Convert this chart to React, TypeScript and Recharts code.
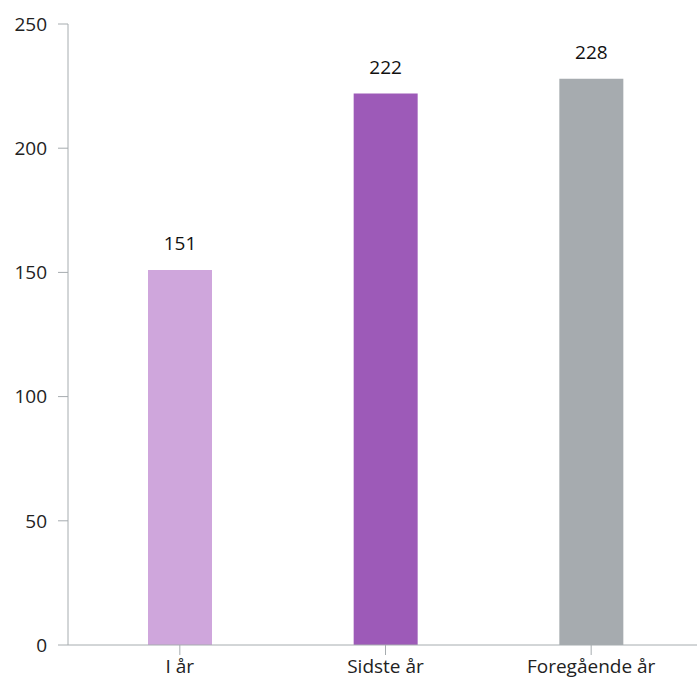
import { Bar, BarChart, Cell, LabelList, XAxis, YAxis } from "recharts";

const categories = ["I år", "Sidste år", "Foregående år"];
const values = [151, 222, 228];
const colors = ["#cfa6dc", "#9d5ab8", "#a6abaf"];
const yTicks = [0, 50, 100, 150, 200, 250];

const data = categories.map((name, i) => ({ name, value: values[i] }));

const axisColor = "#a6acaf";
const font = "'Open Sans', 'Noto Sans', sans-serif";

export default function App() {
  return (
    <div style={{ position: "absolute", left: 0, top: 0, fontFamily: font }}>
      <BarChart
        width={697}
        height={688}
        data={data}
        margin={{ top: 24, right: 0, bottom: 0, left: 0 }}
      >
        <XAxis
          dataKey="name"
          height={43}
          stroke={axisColor}
          tickSize={10}
          tickMargin={5}
          padding={{ left: 9, right: 3 }}
          tick={{ fill: "#222", fontSize: 19, fontFamily: font }}
        />
        <YAxis
          width={68}
          domain={[0, 250]}
          ticks={yTicks}
          stroke={axisColor}
          tickSize={10}
          tickMargin={11}
          tick={{ fill: "#222", fontSize: 19, fontFamily: font }}
        />
        <Bar dataKey="value" barSize={64} isAnimationActive={false}>
          {data.map((d, i) => (
            <Cell key={d.name} fill={colors[i]} />
          ))}
          <LabelList
            dataKey="value"
            position="top"
            offset={20}
            fill="#111"
            fontSize={19}
            fontFamily={font}
          />
        </Bar>
      </BarChart>
    </div>
  );
}
